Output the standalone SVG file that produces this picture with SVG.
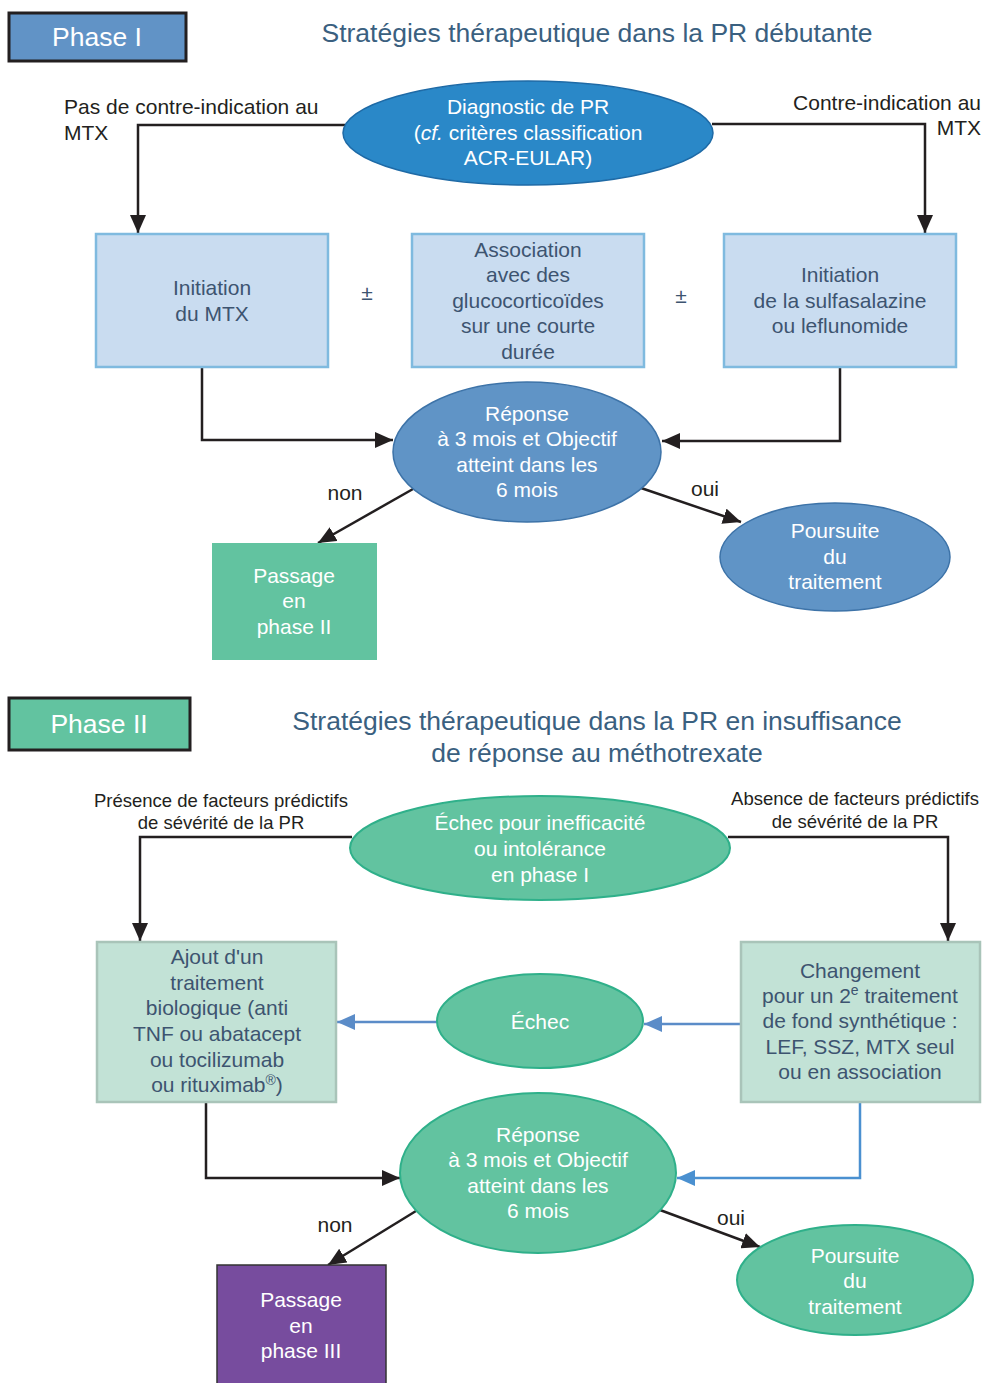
<svg xmlns="http://www.w3.org/2000/svg" width="982" height="1383" viewBox="0 0 982 1383">
<defs>
<style>
text{font-family:"Liberation Sans",Arial,sans-serif;}
.w{fill:#ffffff;font-size:21px;text-anchor:middle;}
.d{fill:#3d5470;font-size:21px;text-anchor:middle;}
.k{fill:#231f20;font-size:21px;}
.ks{fill:#231f20;font-size:18.5px;text-anchor:middle;}
.t{fill:#3a6080;font-size:26.5px;text-anchor:middle;}
.ph{fill:#ffffff;font-size:26.5px;text-anchor:middle;}
.bl{stroke:#231f20;stroke-width:2.5;fill:none;}
.bu{stroke:#5b8cc8;stroke-width:2.5;fill:none;}
.bu2{stroke:#4a90d0;stroke-width:2.5;fill:none;}
</style>
<marker id="ak" markerWidth="18" markerHeight="16" refX="18" refY="8" orient="auto" markerUnits="userSpaceOnUse"><path d="M0,0 L18,8 L0,16 z" fill="#231f20"/></marker>
<marker id="ab" markerWidth="18" markerHeight="16" refX="18" refY="8" orient="auto" markerUnits="userSpaceOnUse"><path d="M0,0 L18,8 L0,16 z" fill="#5b8cc8"/></marker>
<marker id="ab2" markerWidth="18" markerHeight="16" refX="18" refY="8" orient="auto" markerUnits="userSpaceOnUse"><path d="M0,0 L18,8 L0,16 z" fill="#4a90d0"/></marker>
</defs>
<rect width="982" height="1383" fill="#ffffff"/>

<g id="connectors">
<path class="bl" d="M345,125 H138 V233" marker-end="url(#ak)"/>
<path class="bl" d="M712,124 H925 V233" marker-end="url(#ak)"/>
<path class="bl" d="M202,367 V440 H393" marker-end="url(#ak)"/>
<path class="bl" d="M840,367 V441 H662" marker-end="url(#ak)"/>
<path class="bl" d="M413,489 L318,543" marker-end="url(#ak)"/>
<path class="bl" d="M641,488 L741,522" marker-end="url(#ak)"/>
<path class="bl" d="M352,837 H140 V941" marker-end="url(#ak)"/>
<path class="bl" d="M728,837 H948 V941" marker-end="url(#ak)"/>
<path class="bu" d="M741,1024 H644" marker-end="url(#ab)"/>
<path class="bu" d="M437,1022 H337" marker-end="url(#ab)"/>
<path class="bl" d="M206,1102 V1178 H400" marker-end="url(#ak)"/>
<path class="bu2" d="M860,1102 V1178 H677" marker-end="url(#ab2)"/>
<path class="bl" d="M416,1211 L328,1265" marker-end="url(#ak)"/>
<path class="bl" d="M660,1210 L760,1247" marker-end="url(#ak)"/>
</g>

<g id="labels">
<text class="k" x="64" y="114">Pas de contre-indication au</text>
<text class="k" x="64" y="140">MTX</text>
<text class="k" x="981" y="110" text-anchor="end">Contre-indication au</text>
<text class="k" x="981" y="135" text-anchor="end">MTX</text>
<text class="k" x="345" y="500" text-anchor="middle">non</text>
<text class="k" x="705" y="496" text-anchor="middle">oui</text>
<text class="d" x="367" y="300">±</text>
<text class="d" x="681" y="303">±</text>
<text class="ks" x="221" y="807">Présence de facteurs prédictifs</text>
<text class="ks" x="221" y="829">de sévérité de la PR</text>
<text class="ks" x="855" y="805">Absence de facteurs prédictifs</text>
<text class="ks" x="855" y="828">de sévérité de la PR</text>
<text class="k" x="335" y="1232" text-anchor="middle">non</text>
<text class="k" x="731" y="1225" text-anchor="middle">oui</text>
</g>

<g id="phase1">
<rect x="9" y="13" width="177" height="48" fill="#6193c6" stroke="#231f20" stroke-width="3"/>
<text class="ph" x="97" y="46">Phase I</text>
</g>
<g id="title1">
<text class="t" x="597" y="42">Stratégies thérapeutique dans la PR débutante</text>
</g>

<g id="diagnostic">
<ellipse cx="528" cy="133" rx="185" ry="52" fill="#2a88c8" stroke="#1e6aa6" stroke-width="1.5"/>
<text class="w" x="528" y="114">Diagnostic de PR</text>
<text class="w" x="528" y="140">(<tspan font-style="italic">cf.</tspan> critères classification</text>
<text class="w" x="528" y="165">ACR-EULAR)</text>
</g>

<g id="mtx">
<rect x="96" y="234" width="232" height="133" fill="#c9dcf0" stroke="#7fbadf" stroke-width="2.5"/>
<text class="d" x="212" y="295">Initiation</text>
<text class="d" x="212" y="321">du MTX</text>
</g>
<g id="gluco">
<rect x="412" y="234" width="232" height="133" fill="#c9dcf0" stroke="#7fbadf" stroke-width="2.5"/>
<text class="d" x="528" y="257">Association</text>
<text class="d" x="528" y="282">avec des</text>
<text class="d" x="528" y="308">glucocorticoïdes</text>
<text class="d" x="528" y="333">sur une courte</text>
<text class="d" x="528" y="359">durée</text>
</g>
<g id="ssz">
<rect x="724" y="234" width="232" height="133" fill="#c9dcf0" stroke="#7fbadf" stroke-width="2.5"/>
<text class="d" x="840" y="282">Initiation</text>
<text class="d" x="840" y="308">de la sulfasalazine</text>
<text class="d" x="840" y="333">ou leflunomide</text>
</g>

<g id="reponse1">
<ellipse cx="527" cy="452" rx="134" ry="70" fill="#6094c6" stroke="#3d73a8" stroke-width="1.5"/>
<text class="w" x="527" y="421">Réponse</text>
<text class="w" x="527" y="446">à 3 mois et Objectif</text>
<text class="w" x="527" y="472">atteint dans les</text>
<text class="w" x="527" y="497">6 mois</text>
</g>

<g id="passage2">
<rect x="212" y="543" width="165" height="117" fill="#62c3a0"/>
<text class="w" x="294" y="583">Passage</text>
<text class="w" x="294" y="608">en</text>
<text class="w" x="294" y="634">phase II</text>
</g>

<g id="poursuite1">
<ellipse cx="835" cy="557" rx="115" ry="54" fill="#6094c6" stroke="#3d73a8" stroke-width="1.5"/>
<text class="w" x="835" y="538">Poursuite</text>
<text class="w" x="835" y="564">du</text>
<text class="w" x="835" y="589">traitement</text>
</g>

<g id="phase2">
<rect x="9" y="698" width="181" height="52" fill="#62c3a0" stroke="#231f20" stroke-width="3"/>
<text class="ph" x="99" y="733">Phase II</text>
</g>
<g id="title2">
<text class="t" x="597" y="730">Stratégies thérapeutique dans la PR en insuffisance</text>
<text class="t" x="597" y="762">de réponse au méthotrexate</text>
</g>

<g id="echec1">
<ellipse cx="540" cy="848" rx="190" ry="52" fill="#62c3a0" stroke="#2fb08a" stroke-width="2"/>
<text class="w" x="540" y="830">Échec pour inefficacité</text>
<text class="w" x="540" y="856">ou intolérance</text>
<text class="w" x="540" y="882">en phase I</text>
</g>

<g id="ajout">
<rect x="97" y="942" width="239" height="160" fill="#c2e2d6" stroke="#a9c4b9" stroke-width="2.5"/>
<text class="d" x="217" y="964">Ajout d'un</text>
<text class="d" x="217" y="990">traitement</text>
<text class="d" x="217" y="1015">biologique (anti</text>
<text class="d" x="217" y="1041">TNF ou abatacept</text>
<text class="d" x="217" y="1067">ou tocilizumab</text>
<text class="d" x="217" y="1092">ou rituximab<tspan font-size="14" dy="-7">®</tspan><tspan dy="7">)</tspan></text>
</g>

<g id="changement">
<rect x="741" y="942" width="239" height="160" fill="#c2e2d6" stroke="#a9c4b9" stroke-width="2.5"/>
<text class="d" x="860" y="978">Changement</text>
<text class="d" x="860" y="1003">pour un 2<tspan font-size="14" dy="-8">e</tspan><tspan dy="8"> traitement</tspan></text>
<text class="d" x="860" y="1028">de fond synthétique :</text>
<text class="d" x="860" y="1054">LEF, SSZ, MTX seul</text>
<text class="d" x="860" y="1079">ou en association</text>
</g>

<g id="echec2">
<ellipse cx="540" cy="1021" rx="103" ry="47" fill="#62c3a0" stroke="#2fb08a" stroke-width="2"/>
<text class="w" x="540" y="1029">Échec</text>
</g>

<g id="reponse2">
<ellipse cx="538" cy="1173" rx="138" ry="80" fill="#62c3a0" stroke="#2fb08a" stroke-width="2"/>
<text class="w" x="538" y="1142">Réponse</text>
<text class="w" x="538" y="1167">à 3 mois et Objectif</text>
<text class="w" x="538" y="1193">atteint dans les</text>
<text class="w" x="538" y="1218">6 mois</text>
</g>

<g id="passage3">
<rect x="217" y="1265" width="169" height="125" fill="#774c9e" stroke="#333333" stroke-width="1.5"/>
<text class="w" x="301" y="1307">Passage</text>
<text class="w" x="301" y="1333">en</text>
<text class="w" x="301" y="1358">phase III</text>
</g>

<g id="poursuite2">
<ellipse cx="855" cy="1280" rx="118" ry="55" fill="#62c3a0" stroke="#2fb08a" stroke-width="2"/>
<text class="w" x="855" y="1263">Poursuite</text>
<text class="w" x="855" y="1288">du</text>
<text class="w" x="855" y="1314">traitement</text>
</g>
</svg>
